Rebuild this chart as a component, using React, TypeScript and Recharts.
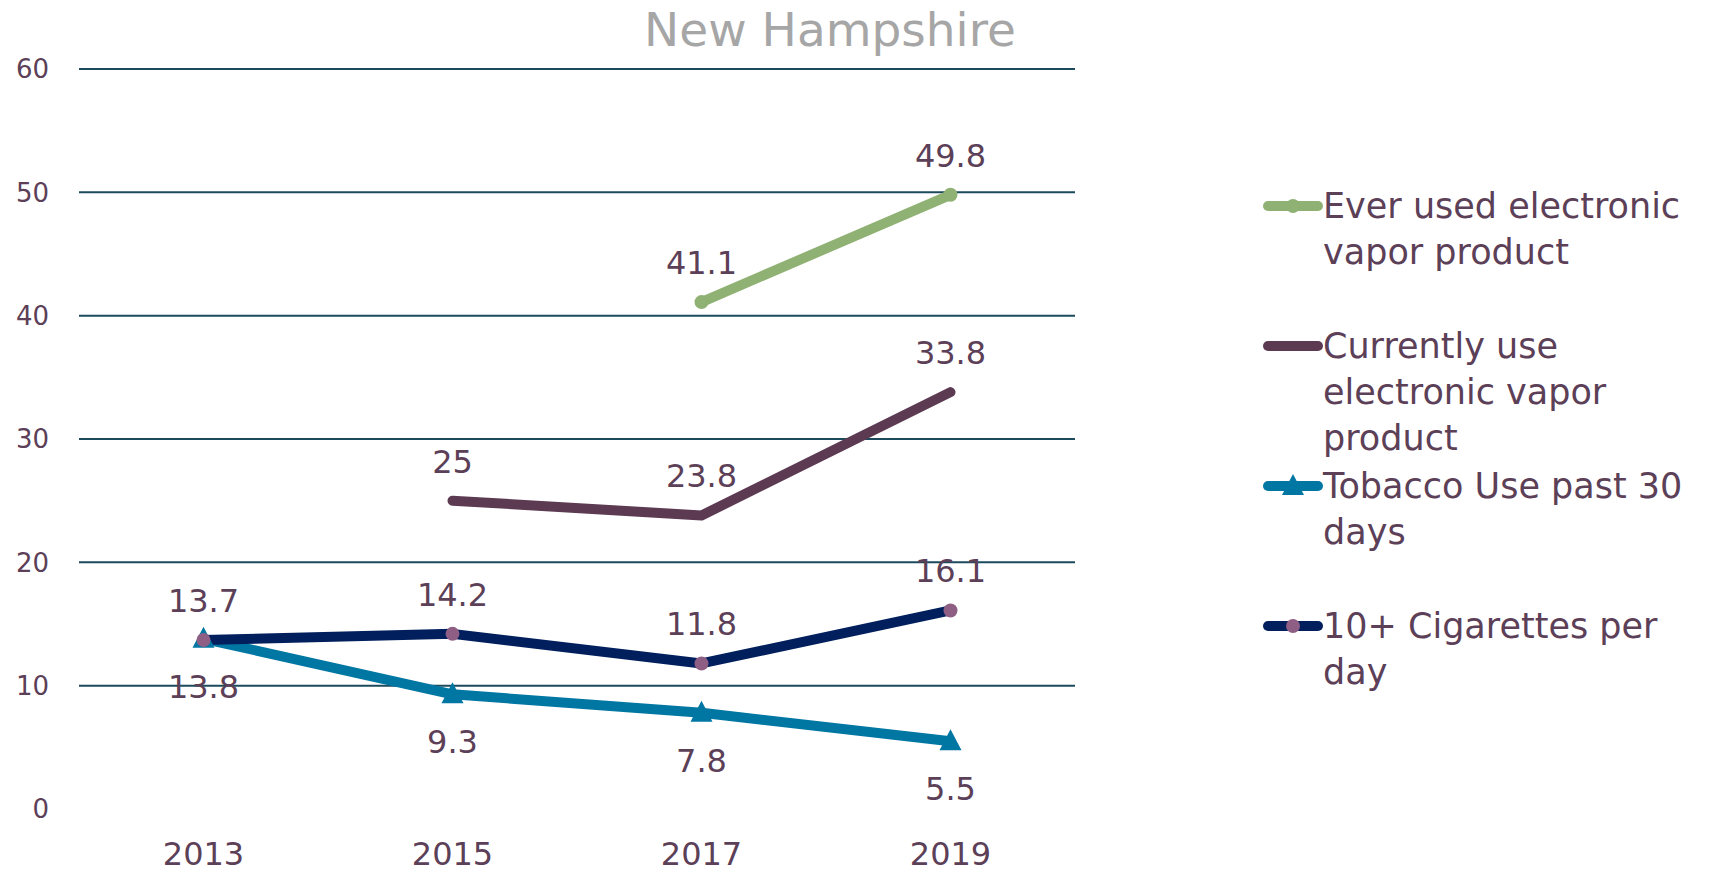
import React from "react"
import { LineChart, Line, XAxis, YAxis, ReferenceLine, LabelList } from "recharts"

const years = ["2013", "2015", "2017", "2019"]
const everUsed = [null, null, 41.1, 49.8]
const currentlyUse = [null, 25, 23.8, 33.8]
const tobaccoPast30 = [13.8, 9.3, 7.8, 5.5]
const cigarettesPerDay = [13.7, 14.2, 11.8, 16.1]
const yTicks = [0, 10, 20, 30, 40, 50, 60]
const gridValues = [10, 20, 30, 40, 50, 60]

const font = "'DejaVu Sans', sans-serif"
const textColor = "#5C4057"

type Marker = "circle" | "none" | "triangle" | "dot"

interface Series {
    key: string
    lines: string[]
    color: string
    marker: Marker
    markerColor: string
    labelBelow: boolean
}

const series: Series[] = [
    { key: "everUsed", lines: ["Ever used electronic", "vapor product"], color: "#8FB173", marker: "circle", markerColor: "#8FB173", labelBelow: false },
    { key: "currentlyUse", lines: ["Currently use", "electronic vapor", "product"], color: "#5C3A52", marker: "none", markerColor: "#5C3A52", labelBelow: false },
    { key: "tobacco", lines: ["Tobacco Use past 30", "days"], color: "#0076A3", marker: "triangle", markerColor: "#0076A3", labelBelow: true },
    { key: "cigarettes", lines: ["10+ Cigarettes per", "day"], color: "#001F5C", marker: "dot", markerColor: "#8E5E84", labelBelow: false },
]

const data = years.map((year, i) => ({
    year,
    everUsed: everUsed[i],
    currentlyUse: currentlyUse[i],
    tobacco: tobaccoPast30[i],
    cigarettes: cigarettesPerDay[i],
}))

function drawMarker(marker: Marker, color: string, cx: number, cy: number, key?: string) {
    if (marker === "circle") return <circle key={key} cx={cx} cy={cy} r={7} fill={color} />
    if (marker === "dot") return <circle key={key} cx={cx} cy={cy} r={7} fill={color} />
    if (marker === "triangle")
        return <polygon key={key} points={`${cx},${cy - 12} ${cx + 11},${cy + 9} ${cx - 11},${cy + 9}`} fill={color} />
    return null
}

function makeDot(s: Series) {
    return (props: any) => {
        const { cx, cy, index, value } = props
        if (s.marker === "none" || cx == null || cy == null || value == null) return <g key={`${s.key}-${index}`} />
        return drawMarker(s.marker, s.markerColor, cx, cy, `${s.key}-${index}`)
    }
}

function makeLabel(s: Series) {
    return (props: any) => {
        const { x, y, value } = props
        if (value == null || x == null || y == null) return null
        return (
            <text
                x={x}
                y={s.labelBelow ? y + 48 : y - 39}
                textAnchor="middle"
                dominantBaseline="central"
                fill={textColor}
                fontSize={32}
                fontFamily={font}
            >
                {value}
            </text>
        )
    }
}

function LegendBox() {
    return (
        <div style={{ position: "absolute", left: 1255, top: 175, fontFamily: font, color: textColor }}>
            {series.map((s) => (
                <div key={s.key} style={{ height: 140, display: "flex", alignItems: "flex-start" }}>
                    <svg width={60} height={46} style={{ flex: "none" }}>
                        <line x1={5} y1={23} x2={55} y2={23} stroke={s.color} strokeWidth={10} strokeLinecap="round" />
                        {drawMarker(s.marker, s.markerColor, 30, 23)}
                    </svg>
                    <div style={{ fontSize: 35, lineHeight: "46px", whiteSpace: "nowrap" }}>
                        {s.lines.map((l) => (
                            <div key={l}>{l}</div>
                        ))}
                    </div>
                </div>
            ))}
        </div>
    )
}

export default function App() {
    return (
        <div style={{ position: "relative", width: 1703, height: 866 }}>
            <div
                style={{
                    position: "absolute",
                    left: 572,
                    width: 500,
                    top: -2,
                    textAlign: "center",
                    fontFamily: font,
                    fontSize: 47,
                    lineHeight: "48px",
                    color: "#A6A6A6",
                }}
            >
                New Hampshire
            </div>
            <LineChart width={1703} height={866} data={data} margin={{ top: 61, right: 636, bottom: 0, left: 0 }}>
                <XAxis
                    dataKey="year"
                    height={65}
                    axisLine={false}
                    tickLine={false}
                    tickSize={0}
                    tickMargin={33}
                    padding={{ left: 124.5, right: 124.5 }}
                    tick={{ fill: textColor, fontSize: 32, fontFamily: font }}
                />
                <YAxis
                    width={71}
                    domain={[0, 60]}
                    ticks={yTicks}
                    axisLine={false}
                    tickLine={false}
                    tickSize={0}
                    tickMargin={30}
                    tick={{ fill: textColor, fontSize: 26, fontFamily: font }}
                />
                {gridValues.map((v) => (
                    <ReferenceLine key={v} y={v} stroke="#1A4A5C" strokeWidth={2} />
                ))}
                {series.map((s) => (
                    <Line
                        key={s.key}
                        dataKey={s.key}
                        stroke={s.color}
                        strokeWidth={10}
                        strokeLinecap="round"
                        strokeLinejoin="round"
                        dot={makeDot(s)}
                        activeDot={false}
                        isAnimationActive={false}
                    >
                        <LabelList dataKey={s.key} content={makeLabel(s)} />
                    </Line>
                ))}
            </LineChart>
            <LegendBox />
        </div>
    )
}
